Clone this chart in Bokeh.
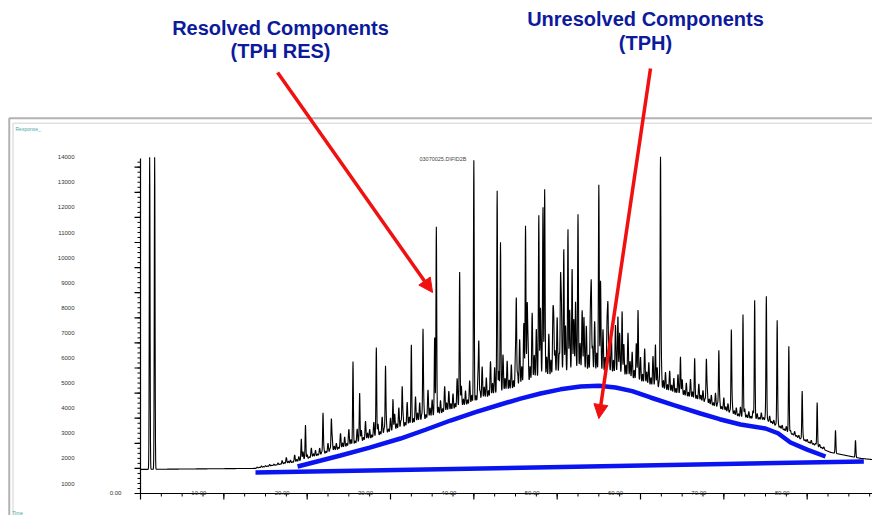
import numpy as np
from bokeh.plotting import figure
from bokeh.models import Range1d, BoxAnnotation, Label, Arrow, NormalHead
from bokeh.core.properties import value
from bokeh.embed import file_html
from bokeh.resources import INLINE

# ---------------- data ----------------
floor_t = [0, 13.8, 18.8, 24.0, 31.2, 37.2, 43.2, 48.0, 52.8, 57.6, 61.2, 67.2, 72.0, 75.0, 79.2, 82.8, 86.4, 88.8]
floor_r = [1960, 2000, 2250, 2750, 3550, 4250, 4900, 5400, 5700, 5600, 5200, 4650, 4000, 3900, 3150, 2640, 2400, 2320]

peak_t = [1.1, 1.7, 19.3, 19.8, 21.9, 22.9, 25.5, 26.3, 28.3, 29.4, 30.3, 31.4, 32.5, 33.9, 35.5, 35.3,
          38.3, 40.0, 40.6, 42.8, 43.2, 45.1, 46.2, 46.4, 47.8, 48.3, 48.5, 49.6, 50.4, 50.8, 51.3, 51.8,
          52.2, 52.5, 53.2, 54.1, 55.0, 55.2, 56.1, 57.3, 57.8, 59.7, 61.8, 62.4, 64.8, 66.5, 67.9, 69.4,
          70.9, 72.3, 73.7, 75.1, 76.4, 77.8, 79.4, 81.2, 83.4, 85.8, 88.7]
peak_r = [14400, 14400, 3120, 3640, 4160, 3840, 5880, 4840, 6640, 5960, 4600, 5120, 6280, 7400, 10680, 7000,
          9480, 13480, 6800, 12720, 10720, 8400, 10880, 8120, 11400, 11480, 10720, 7240, 8840, 9800, 10880, 9120,
          7920, 9120, 7200, 8640, 10800, 8720, 7920, 7400, 7720, 7840, 6560, 14440, 6200, 5840, 6200, 6600,
          7400, 8000, 8600, 8800, 7840, 6800, 5040, 4600, 3520, 3120, 2640]

grass_t = np.arange(14.0, 82.01, 0.25)
grass_h = [40, 20, 60, 25, 50, 20, 70, 30, 60, 25, 80, 30,
           150, 60, 250, 90, 120, 40, 300, 110, 200, 80, 350, 130, 180, 70, 400, 150, 260, 90, 300, 120, 220,
           100, 400, 170, 550, 210, 300, 120, 650, 240, 450, 160, 700, 260, 380, 150, 600, 230, 500, 180, 800,
           300, 420, 170, 650, 250, 520, 190, 750, 280, 480, 180, 600, 220, 700, 280, 900, 350, 550, 220, 1000,
           380, 650, 260, 1100, 420, 800, 300, 600, 240, 1200, 450, 750, 300, 950, 360, 600, 240, 1100, 420,
           850, 330, 700, 280, 1250, 480, 900, 350, 650, 260, 1000, 390, 800, 320, 1100, 450, 1400, 560, 900,
           360, 1500, 600, 1200, 480, 1000, 400, 1600, 640, 1300, 520, 1100, 440, 1500, 700, 2000, 900, 2600,
           1100, 1800, 800, 2900, 1200, 2200, 950, 3000, 1300, 2400, 1000, 1900, 850, 2800, 1200, 2500, 1050,
           3100, 1300, 2100, 900, 2700, 1150, 2300, 1000, 3000, 1300, 2600, 1100, 2000, 850, 2800, 1200, 2200,
           950, 2500, 1050, 1900, 800, 2300, 950, 1700, 700, 2100, 900, 1800, 750, 1400, 600, 1900, 800, 1200,
           500, 1600, 650, 1100, 450, 1500, 600, 1000, 420, 1300, 520, 900, 380, 1100, 450, 800, 330, 900, 360,
           650, 270, 850, 340, 700, 280, 600, 250, 800, 320, 550, 220, 700, 280, 500, 200, 650, 260, 450, 180,
           600, 240, 400, 160, 550, 220, 380, 150, 500, 200, 350, 140, 450, 180, 400, 160, 300, 120, 350, 140,
           250, 100, 300, 120, 220, 90, 280, 110, 200, 80, 250, 100, 180, 70, 220, 90, 150, 60, 200, 80, 130,
           50, 170, 70, 120, 50, 150, 60, 100, 40, 130, 50, 100]

env_t = [18.85, 24.0, 27.5, 31.2, 34.2, 37.2, 40.2, 43.2, 45.6, 48.0, 50.4, 52.8, 55.0, 57.0, 59.0, 61.2,
         64.0, 67.2, 69.5, 72.0, 75.0, 76.5, 78.0, 80.0, 82.2]
env_r = [2076, 2514, 2830, 3191, 3540, 3908, 4240, 4546, 4780, 4984, 5150, 5263, 5290, 5223, 5080, 4825,
         4520, 4187, 3960, 3749, 3590, 3400, 3032, 2750, 2474]
base_t = [13.8, 86.8]
base_r = [1837, 2275]

y_ticks = list(range(1000, 14001, 1000))
x_ticks = [0, 10, 20, 30, 40, 50, 60, 70, 80]

# ---------------- trace ----------------
n = min(len(grass_t), len(grass_h))
t = np.arange(0.0, 88.8, 0.02)
floor = np.interp(t, floor_t, floor_r)
sig = floor.copy()
for gt, gh in zip(grass_t[:n], grass_h[:n]):
    sig += gh * np.exp(-0.5 * ((t - gt) / 0.06) ** 2)
for pt, pr in zip(peak_t, peak_r):
    base = np.interp(pt, floor_t, floor_r)
    sig += (pr - base) * np.exp(-0.5 * ((t - pt) / 0.045) ** 2)
sig = np.minimum(sig, 14420)

W, H = 872, 515
XPX = 0.12       # minutes per pixel
YPX = 39.84      # response per pixel
p = figure(width=W, height=H, output_backend="svg", toolbar_location=None, title=None,
           x_axis_type=None, y_axis_type=None,
           x_range=Range1d(-16.8, -16.8 + W * XPX), y_range=Range1d(-195 + 8 * YPX, -195 + 8 * YPX + H * YPX),
           min_border=0, outline_line_color=None)
p.grid.visible = False

# frame boxes
p.add_layout(BoxAnnotation(left=-15.75, right=88.5, bottom=0, top=15950,
                           fill_alpha=0, line_color="black", line_width=2))
p.add_layout(BoxAnnotation(left=-15.3, right=88.2, bottom=80, top=15750,
                           fill_alpha=0, line_color="#999999", line_width=1.5))

p.line(t, sig, line_color="black", line_width=1.1)
p.line(env_t, env_r, line_color="#0a14f0", line_width=4.5)
p.line(base_t, base_r, line_color="#0a14f0", line_width=4.5)

# y axis (line, ticks, labels from tick values)
p.segment(x0=[0], y0=[1000], x1=[0], y1=[14350], line_color="black", line_width=1.2)
ymin = list(np.arange(1000, 14350, 200))
p.segment(x0=[0] * len(ymin), y0=ymin, x1=[-3 * XPX] * len(ymin), y1=ymin, line_color="black", line_width=1)
p.segment(x0=[0] * len(y_ticks), y0=y_ticks, x1=[-6 * XPX] * len(y_ticks), y1=y_ticks,
          line_color="black", line_width=1.2)
p.text(x=[-66 * XPX] * len(y_ticks), y=[v + 10 * YPX for v in y_ticks], text=[str(v) for v in y_ticks],
       text_font_size="6px", text_color="#333333", text_align="right", text_baseline="middle",
       text_font=value("Liberation Sans"))
# x axis
p.segment(x0=[0], y0=[1000], x1=[88.8], y1=[1000], line_color="black", line_width=1.2)
xmin = list(np.arange(0, 88.8, 2.5))
p.segment(x0=xmin, y0=[1000] * len(xmin), x1=xmin, y1=[1000 - 3 * YPX] * len(xmin), line_color="black", line_width=1)
p.segment(x0=x_ticks, y0=[1000] * len(x_ticks), x1=x_ticks, y1=[1000 - 6 * YPX] * len(x_ticks),
          line_color="black", line_width=1.2)
p.text(x=[v - 25 * XPX for v in x_ticks], y=[1000 + 1 * YPX] * len(x_ticks), text=["%.2f" % v for v in x_ticks],
       text_font_size="6px", text_color="#333333", text_align="center", text_baseline="middle",
       text_font=value("Liberation Sans"))

# small texts
p.add_layout(Label(x=-15.0, y=15400, text="Response_", text_font_size="5px", text_color="#4aa8a8"))
p.add_layout(Label(x=-15.4, y=100, text="Time", text_font_size="5px", text_color="#4aa8a8"))
p.add_layout(Label(x=36.3, y=14200, text="03070025.D\\FID2B", text_font_size="5.5px",
                   text_color="#444444", text_align="center"))

# titles
for (tx, ty, txt) in [(16.8, 19120, "Resolved Components"), (16.8, 18200, "(TPH RES)"),
                      (60.6, 19480, "Unresolved Components"), (60.6, 18500, "(TPH)")]:
    p.add_layout(Label(x=tx, y=ty, text=txt, text_font_size="20px", text_font_style="bold",
                       text_color="#0c1a9c", text_align="center", text_font="Liberation Sans"))

# arrows
for (x0, y0, x1, y1) in [(16.45, 17773, 35.05, 9008), (61.2, 17932, 55.0, 3988)]:
    p.add_layout(Arrow(x_start=x0, y_start=y0, x_end=x1, y_end=y1, line_color="#f01010",
                       line_width=3.5, end=NormalHead(size=14, fill_color="#f01010",
                                                      line_color="#f01010")))

open("out.html", "w").write(file_html(p, INLINE))
